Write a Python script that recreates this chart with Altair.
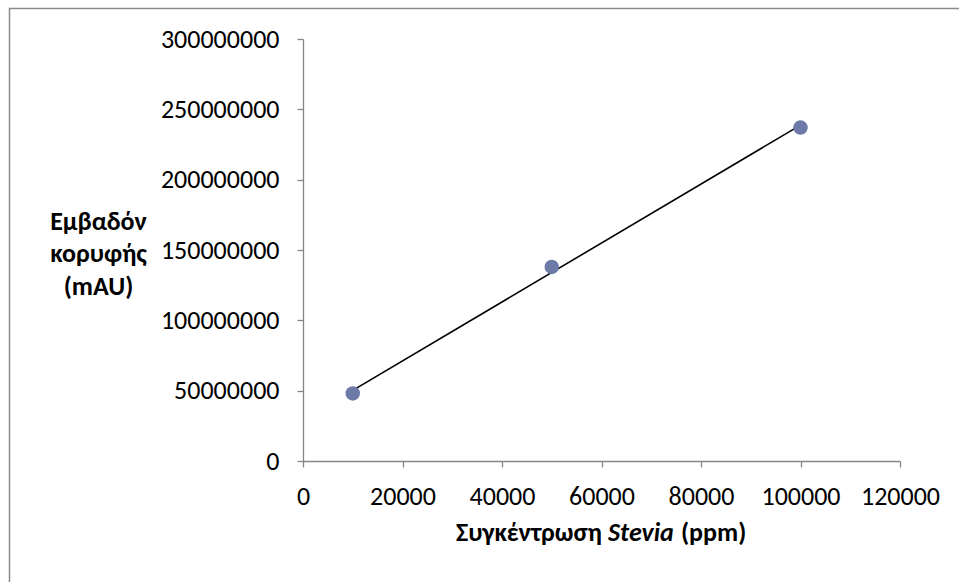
import altair as alt
import pandas as pd

# Data
conc = [10000, 50000, 100000]
area = [48000000, 138000000, 237000000]

x_ticks = [0, 20000, 40000, 60000, 80000, 100000, 120000]
y_ticks = [0, 50000000, 100000000, 150000000, 200000000, 250000000, 300000000]

y_title = ["Εμβαδόν", "κορυφής", "(mAU)"]
x_title_parts = ["Συγκέντρωση", "Stevia", "(ppm)"]

df = pd.DataFrame({"conc": conc, "area": area})

FONT = "Carlito, Lato, 'Noto Sans', sans-serif"
LEFT, TOP, W, H = 303, 39, 597, 422

x_enc = alt.X(
    "conc:Q",
    scale=alt.Scale(domain=[0, 120000], nice=False, zero=True),
    axis=alt.Axis(values=x_ticks, title=None, format="d", grid=False,
                  labelPadding=16, tickSize=6, labelFlush=False),
)
y_enc = alt.Y(
    "area:Q",
    scale=alt.Scale(domain=[0, 300000000], nice=False),
    axis=alt.Axis(values=y_ticks, format="d", grid=False, title=y_title,
                  titleAngle=0, titleAlign="center", titleBaseline="middle",
                  titleX=98 - LEFT, titleY=221 - TOP, titleFontWeight="bold",
                  titleLineHeight=32.5, titleFontSize=26, labelPadding=18, tickSize=6),
)

points = alt.Chart(df).mark_circle(size=210, color="#6D7AA8", opacity=1).encode(x=x_enc, y=y_enc)

trend = (
    alt.Chart(df)
    .transform_regression("conc", "area", method="linear", extent=[10000, 100000])
    .mark_line(color="black", strokeWidth=1.6)
    .encode(x="conc:Q", y="area:Q")
)

border = alt.Chart(pd.DataFrame({"k": [0]})).mark_rect(
    fill=None, stroke="#8c8c8c", strokeWidth=1.5
).encode(
    x=alt.value(9.5 - LEFT), x2=alt.value(980 - LEFT),
    y=alt.value(8.5 - TOP), y2=alt.value(600 - TOP),
)

TY = 541 - TOP
TS = 26
def part(i, x, style="normal"):
    d = pd.DataFrame({"t": [x_title_parts[i]]})
    return alt.Chart(d).mark_text(
        font=FONT, fontSize=TS, fontWeight="bold", fontStyle=style,
        align="left", baseline="alphabetic", color="black"
    ).encode(text="t:N", x=alt.value(x - LEFT), y=alt.value(TY))

t1 = part(0, 456)
t2 = part(1, 608, "italic")
t3 = part(2, 681)

chart = (
    alt.layer(border, trend, points, t1, t2, t3)
    .properties(width=W, height=H, padding={"left": LEFT, "top": TOP, "right": 959 - LEFT - W, "bottom": 582 - TOP - H},
                autosize=alt.AutoSizeParams(type="none"), background="white")
    .configure_view(stroke=None)
    .configure_axis(domainColor="#868686", tickColor="#868686", domainWidth=1.3, tickWidth=1.3,
                    labelFont=FONT, labelFontSize=26, labelColor="black",
                    titleFont=FONT, titleColor="black")
)

chart.save("out.html", embed_options={"renderer": "svg", "actions": False})
